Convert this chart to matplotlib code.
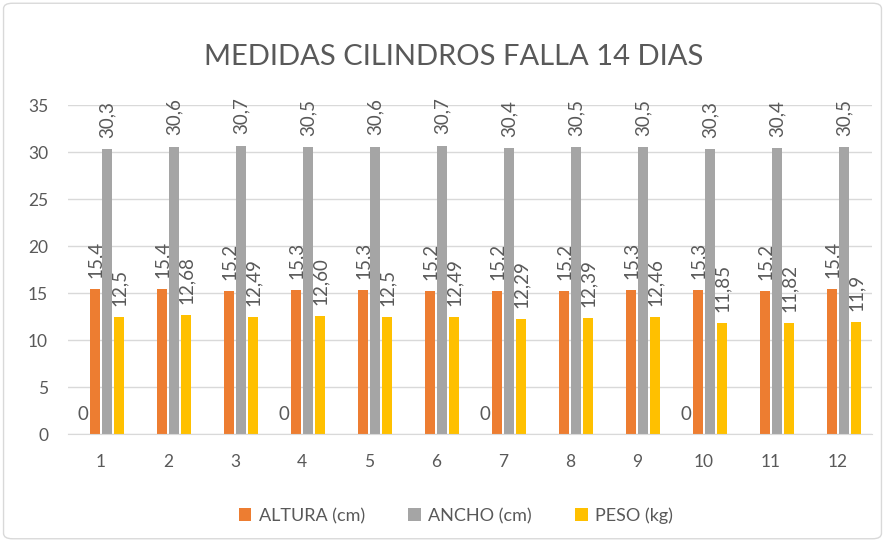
import numpy as np
import matplotlib.pyplot as plt
from matplotlib.patches import FancyBboxPatch

plt.rcParams['font.family'] = ['Lato', 'DejaVu Sans']

# --- Data ---
categories = ['1', '2', '3', '4', '5', '6', '7', '8', '9', '10', '11', '12']
altura = [15.4, 15.4, 15.2, 15.3, 15.3, 15.2, 15.2, 15.2, 15.3, 15.3, 15.2, 15.4]
ancho = [30.3, 30.6, 30.7, 30.5, 30.6, 30.7, 30.4, 30.5, 30.5, 30.3, 30.4, 30.5]
peso = [12.5, 12.68, 12.49, 12.60, 12.5, 12.49, 12.29, 12.39, 12.46, 11.85, 11.82, 11.9]
peso_labels = ['12,5', '12,68', '12,49', '12,60', '12,5', '12,49', '12,29', '12,39',
               '12,46', '11,85', '11,82', '11,9']
zero_cats = [1, 4, 7, 10]  # categories showing a stray "0" label

TXT = '#595959'
COLORS = ['#ED7D31', '#A5A5A5', '#FFC000']

fig = plt.figure(figsize=(8.85, 5.42), dpi=100)
ax = fig.add_axes([0.0763, 0.199, 0.9085, 0.607])

x = np.arange(len(categories))
w = 0.14
step = 0.18
offsets = [-1.5 * step, -0.5 * step, 0.5 * step, 1.5 * step]

series = [
    ('ALTURA (cm)', altura, [f'{v:.1f}'.replace('.', ',') for v in altura]),
    ('ANCHO (cm)', ancho, [f'{v:.1f}'.replace('.', ',') for v in ancho]),
    ('PESO (kg)', peso, peso_labels),
]

for i, (name, vals, labs) in enumerate(series):
    bars = ax.bar(x + offsets[i + 1], vals, w, color=COLORS[i], label=name, zorder=3)
    for b, lab in zip(bars, labs):
        ax.annotate(lab, (b.get_x() + b.get_width() / 2, b.get_height()),
                    xytext=(0, 8), textcoords='offset points', rotation=90,
                    ha='center', va='bottom', fontsize=13.5, color=TXT)

# hidden series with zero labels
for c in zero_cats:
    ax.annotate('0', (c - 1 + offsets[0], 0), xytext=(0, 8), textcoords='offset points',
                ha='center', va='bottom', fontsize=13.5, color=TXT)

ax.set_xlim(-0.5, len(categories) - 0.5)
ax.set_ylim(0, 35)
ax.set_yticks(range(0, 36, 5))
ax.set_xticks(x)
ax.set_xticklabels(categories)
ax.tick_params(length=0, labelsize=12.5, colors=TXT)
ax.tick_params(axis='x', pad=14)
ax.tick_params(axis='y', pad=14)
ax.grid(axis='y', color='#D9D9D9', linewidth=1, zorder=0)
for s in ['top', 'right', 'left']:
    ax.spines[s].set_visible(False)
ax.spines['bottom'].set_color('#D9D9D9')
ax.spines['bottom'].set_zorder(4)

fig.text(0.513, 0.895, 'MEDIDAS CILINDROS FALLA 14 DIAS', ha='center', va='center',
         fontsize=21, color=TXT)

fig.legend(loc='lower center', bbox_to_anchor=(0.515, 0.003), ncol=3, frameon=False,
           fontsize=13, handlelength=0.7, handleheight=0.7, handletextpad=0.4,
           columnspacing=2.4, labelcolor=TXT)

border = FancyBboxPatch((0.004, 0.006), 0.992, 0.988, boxstyle='round,pad=0,rounding_size=0.01',
                        transform=fig.transFigure, fill=False, edgecolor='#D9D9D9', linewidth=1)
fig.patches.append(border)

fig.savefig('out.png', dpi=100)
